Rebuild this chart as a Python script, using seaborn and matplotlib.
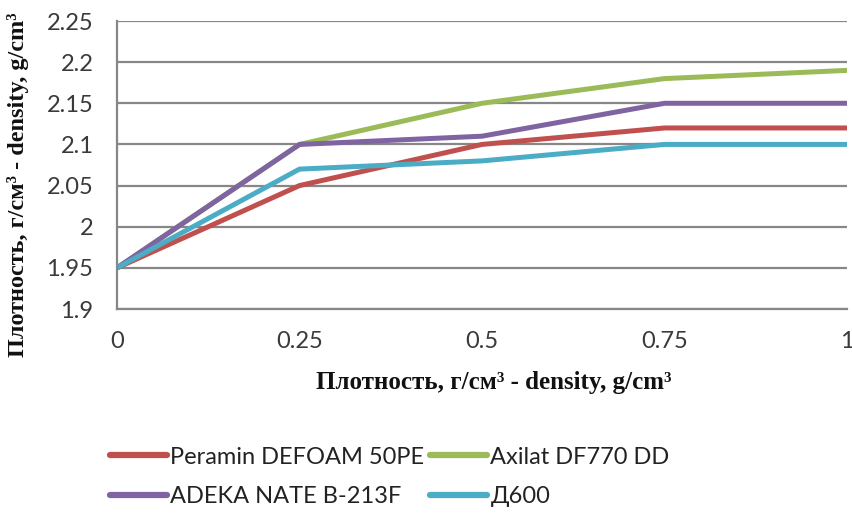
import matplotlib
matplotlib.use("Agg")
import matplotlib.pyplot as plt
import seaborn as sns
import pandas as pd

x_vals = [0, 0.25, 0.5, 0.75, 1]
peramin = [1.95, 2.05, 2.10, 2.12, 2.12]
axilat = [1.95, 2.10, 2.15, 2.18, 2.19]
adeka = [1.95, 2.10, 2.11, 2.15, 2.15]
d600 = [1.95, 2.07, 2.08, 2.10, 2.10]
series_names = ["Peramin DEFOAM 50PE", "Axilat DF770 DD", "ADEKA NATE B-213F", "Д600"]
colors = ["#C0504D", "#9BBB59", "#8064A2", "#4BACC6"]
y_ticks = [1.9, 1.95, 2.0, 2.05, 2.1, 2.15, 2.2, 2.25]
y_ticklabels = ["1.9", "1.95", "2", "2.05", "2.1", "2.15", "2.2", "2.25"]
x_ticklabels = ["0", "0.25", "0.5", "0.75", "1"]
label = "Плотность, г/см³ - density, g/cm³"

rows = []
for name, vals in zip(series_names, [peramin, axilat, adeka, d600]):
    for xv, yv in zip(x_vals, vals):
        rows.append({"x": xv, "y": yv, "series": name})
df = pd.DataFrame(rows)

sns.set_theme(style="white")
plt.rcParams['font.family'] = ['Lato', 'DejaVu Sans']

fig = plt.figure(figsize=(8.53, 5.17), dpi=100)
ax = fig.add_axes([117/853, 1 - 309/517, (847-117)/853, (309-21)/517])

sns.lineplot(data=df, x="x", y="y", hue="series", hue_order=series_names,
             palette=colors, linewidth=3.6, ax=ax, legend=True, sort=False)

grid_c = "#878787"
ax.set_xlim(0, 1)
ax.set_ylim(1.9, 2.25)
ax.set_yticks(y_ticks)
ax.set_yticklabels(y_ticklabels)
ax.set_xticks(x_vals)
ax.set_xticklabels(x_ticklabels)
for yv in y_ticks:
    ax.axhline(yv, color=grid_c, linewidth=1.6, zorder=0)
for s in ["top", "right"]:
    ax.spines[s].set_visible(False)
for s in ["left", "bottom"]:
    ax.spines[s].set_color(grid_c)
    ax.spines[s].set_linewidth(1.6)
ax.tick_params(axis="both", which="both", length=7, width=1.6, color=grid_c,
               labelsize=17, labelcolor="#3a3a3a", direction="out")
ax.tick_params(axis="y", pad=10)
ax.tick_params(axis="x", pad=9)

serif = ["Liberation Serif", "DejaVu Serif"]
ax.set_xlabel(label, fontsize=18, fontweight="bold", family=serif, color="#111111")
ax.xaxis.set_label_coords((494-117)/730, -(383-309)/288)
ax.xaxis.label.set_va("center")
ax.set_ylabel(label, fontsize=17.5, fontweight="bold", family=serif, color="#111111")
ax.yaxis.set_label_coords(-(117-18)/730, (309-185)/288)
ax.yaxis.label.set_va("center")

handles, labels_ = ax.get_legend_handles_labels()
ax.get_legend().remove()
order = [0, 2, 1, 3]
leg = fig.legend([handles[i] for i in order], [labels_[i] for i in order],
                 loc="center left", bbox_to_anchor=(110/853, 1 - 477/517), ncol=2,
                 frameon=False, fontsize=17, handlelength=2.4, columnspacing=0.25,
                 handletextpad=0.15, labelspacing=0.8, borderpad=0, borderaxespad=0,
                 labelcolor="#222222")
for h in leg.get_lines():
    h.set_linewidth(4.5)
    h.set_solid_capstyle("round")

fig.savefig("out.png", dpi=100)
